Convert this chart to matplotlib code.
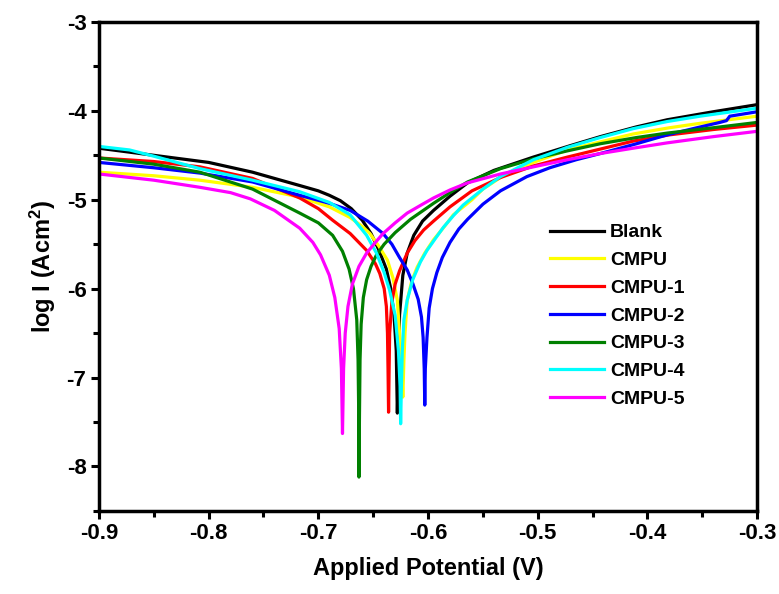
import matplotlib
matplotlib.use("Agg")
import matplotlib.pyplot as plt
from matplotlib.ticker import MultipleLocator

plt.rcParams['font.family'] = ['Liberation Sans', 'DejaVu Sans']
plt.rcParams['font.weight'] = 'bold'
plt.rcParams['mathtext.fontset'] = 'custom'
plt.rcParams['mathtext.rm'] = 'Liberation Sans:bold'
plt.rcParams['mathtext.bf'] = 'Liberation Sans:bold'
plt.rcParams['mathtext.default'] = 'bf'

blank_v = [-0.9, -0.85, -0.8, -0.76, -0.74, -0.717, -0.70, -0.69, -0.68, -0.67, -0.66, -0.652,
           -0.645, -0.638, -0.634, -0.631, -0.629, -0.628,
           -0.627, -0.626, -0.623, -0.619, -0.613, -0.605, -0.595, -0.58, -0.564, -0.54,
           -0.504, -0.47, -0.443, -0.41, -0.382, -0.34, -0.3]
blank_i = [-4.42, -4.50, -4.58, -4.69, -4.76, -4.84, -4.90, -4.95, -5.01, -5.10, -5.23, -5.38,
           -5.56, -5.78, -6.00, -6.30, -6.70, -7.40,
           -6.90, -6.30, -5.85, -5.60, -5.40, -5.24, -5.12, -4.96, -4.81, -4.67,
           -4.52, -4.39, -4.29, -4.18, -4.10, -4.01, -3.93]

cmpu_v = [-0.9, -0.85, -0.808, -0.76, -0.717, -0.69, -0.671, -0.66, -0.653, -0.645, -0.637,
          -0.632, -0.628, -0.626, -0.624, -0.623,
          -0.622, -0.621, -0.619, -0.615, -0.610, -0.603, -0.595, -0.585, -0.577, -0.56,
          -0.55, -0.534, -0.52, -0.504, -0.473, -0.44, -0.413, -0.38, -0.352, -0.3]
cmpu_i = [-4.69, -4.73, -4.78, -4.86, -4.97, -5.08, -5.20, -5.30, -5.38, -5.52, -5.68,
          -5.88, -6.13, -6.50, -6.90, -7.22,
          -6.80, -6.50, -6.13, -5.92, -5.76, -5.60, -5.45, -5.30, -5.17, -5.00,
          -4.88, -4.75, -4.66, -4.58, -4.44, -4.34, -4.26, -4.19, -4.14, -4.06]

cmpu1_v = [-0.9, -0.85, -0.808, -0.76, -0.717, -0.70, -0.687, -0.671, -0.656, -0.648, -0.644,
           -0.640, -0.638, -0.637, -0.6365, -0.636,
           -0.6355, -0.635, -0.633, -0.630, -0.626, -0.619, -0.612, -0.604, -0.595, -0.58,
           -0.56, -0.534, -0.504, -0.473, -0.443, -0.413, -0.38, -0.34, -0.3]
cmpu1_i = [-4.53, -4.57, -4.63, -4.76, -4.98, -5.10, -5.23, -5.38, -5.57, -5.72, -5.83,
           -6.00, -6.20, -6.50, -6.90, -7.39,
           -6.90, -6.50, -6.15, -5.95, -5.80, -5.60, -5.46, -5.34, -5.24, -5.08,
           -4.90, -4.75, -4.62, -4.52, -4.43, -4.34, -4.27, -4.21, -4.16]

cmpu2_v = [-0.9, -0.85, -0.808, -0.76, -0.717, -0.69, -0.671, -0.655, -0.641, -0.633, -0.626,
           -0.619, -0.614, -0.609, -0.606, -0.6045, -0.6035, -0.603,
           -0.6025, -0.601, -0.599, -0.596, -0.592, -0.587, -0.580, -0.572, -0.564, -0.55,
           -0.534, -0.51, -0.489, -0.465, -0.443, -0.41, -0.382, -0.355, -0.334, -0.328,
           -0.325, -0.3]
cmpu2_i = [-4.58, -4.64, -4.70, -4.80, -4.95, -5.04, -5.12, -5.24, -5.38, -5.50, -5.65,
           -5.79, -5.94, -6.12, -6.32, -6.55, -6.90, -7.31,
           -6.90, -6.55, -6.22, -6.00, -5.82, -5.65, -5.48, -5.33, -5.22, -5.05,
           -4.90, -4.74, -4.64, -4.55, -4.48, -4.37, -4.27, -4.19, -4.13, -4.11,
           -4.06, -4.01]

cmpu3_v = [-0.9, -0.85, -0.808, -0.76, -0.717, -0.70, -0.687, -0.678, -0.672, -0.668, -0.665,
           -0.6638, -0.6632, -0.663,
           -0.6625, -0.662, -0.661, -0.659, -0.656, -0.652, -0.647, -0.640, -0.630, -0.616,
           -0.595, -0.58, -0.564, -0.534, -0.504, -0.473, -0.443, -0.41, -0.382, -0.34, -0.3]
cmpu3_i = [-4.53, -4.60, -4.69, -4.88, -5.15, -5.26, -5.40, -5.58, -5.78, -6.00, -6.35,
           -6.80, -7.40, -8.12,
           -7.40, -6.80, -6.40, -6.10, -5.90, -5.75, -5.62, -5.50, -5.37, -5.22,
           -5.04, -4.92, -4.80, -4.65, -4.54, -4.45, -4.37, -4.30, -4.25, -4.19, -4.13]

cmpu4_v = [-0.9, -0.872, -0.85, -0.808, -0.76, -0.717, -0.69, -0.671, -0.656, -0.647, -0.640,
           -0.635, -0.630, -0.627, -0.6255, -0.625,
           -0.6243, -0.6235, -0.622, -0.619, -0.614, -0.607, -0.601, -0.593, -0.586, -0.577,
           -0.568, -0.55, -0.534, -0.504, -0.473, -0.443, -0.413, -0.382, -0.352, -0.3]
cmpu4_i = [-4.40, -4.44, -4.51, -4.65, -4.78, -4.91, -5.03, -5.17, -5.40, -5.60, -5.82,
           -6.02, -6.30, -6.70, -7.10, -7.52,
           -7.10, -6.70, -6.35, -6.13, -5.90, -5.70, -5.57, -5.43, -5.31, -5.18,
           -5.06, -4.88, -4.74, -4.55, -4.41, -4.30, -4.20, -4.12, -4.06, -3.97]

cmpu5_v = [-0.9, -0.85, -0.808, -0.78, -0.762, -0.74, -0.717, -0.705, -0.698, -0.690, -0.685,
           -0.681, -0.679, -0.678,
           -0.677, -0.6755, -0.673, -0.669, -0.663, -0.656, -0.648, -0.641, -0.63, -0.619,
           -0.605, -0.595, -0.58, -0.564, -0.534, -0.504, -0.473, -0.443, -0.413, -0.382,
           -0.34, -0.3]
cmpu5_i = [-4.71, -4.78, -4.86, -4.92, -4.99, -5.12, -5.32, -5.48, -5.62, -5.85, -6.10,
           -6.45, -6.90, -7.63,
           -6.90, -6.50, -6.20, -5.95, -5.75, -5.60, -5.48, -5.38, -5.26, -5.15,
           -5.05, -4.98, -4.89, -4.81, -4.71, -4.63, -4.55, -4.48, -4.42, -4.36,
           -4.29, -4.23]

amostras = ["Blank", "CMPU", "CMPU-1", "CMPU-2", "CMPU-3", "CMPU-4", "CMPU-5"]
cores = ["#000000", "#FFFF00", "#FF0000", "#0000FF", "#008000", "#00FFFF", "#FF00FF"]
series = [(blank_v, blank_i), (cmpu_v, cmpu_i), (cmpu1_v, cmpu1_i), (cmpu2_v, cmpu2_i),
          (cmpu3_v, cmpu3_i), (cmpu4_v, cmpu4_i), (cmpu5_v, cmpu5_i)]

fig = plt.figure(figsize=(7.79, 5.94), dpi=100)
ax = fig.add_axes([0.127, 0.140, 0.845, 0.823])

for nome, cor, (v, i) in zip(amostras, cores, series):
    ax.plot(v, i, color=cor, lw=2.3, label=nome, solid_joinstyle="round")

ax.set_xlim(-0.9, -0.3)
ax.set_ylim(-8.5, -3)
ax.xaxis.set_major_locator(MultipleLocator(0.1))
ax.xaxis.set_minor_locator(MultipleLocator(0.05))
ax.yaxis.set_major_locator(MultipleLocator(1))
ax.yaxis.set_minor_locator(MultipleLocator(0.5))
ax.xaxis.set_major_formatter(plt.FuncFormatter(lambda x, p: f"{x:.1f}"))
ax.yaxis.set_major_formatter(plt.FuncFormatter(lambda y, p: f"{y:.0f}"))

for s in ax.spines.values():
    s.set_linewidth(2.5)
ax.tick_params(which="major", direction="out", length=6, width=2.2, labelsize=16, pad=3)
ax.tick_params(which="minor", direction="out", length=4, width=2.2)

ax.set_xlabel("Applied Potential (V)", fontsize=17, fontweight="bold", labelpad=9)
ax.set_ylabel("log I (Acm$^2$)", fontsize=17, fontweight="bold", labelpad=6)

ax.legend(loc="upper left", bbox_to_anchor=(0.685, 0.587), frameon=False,
          prop={"size": 14, "weight": "bold"}, handlelength=2.8, handletextpad=0.3,
          labelspacing=0.52, borderpad=0, borderaxespad=0)

fig.savefig("out.png", dpi=100)
